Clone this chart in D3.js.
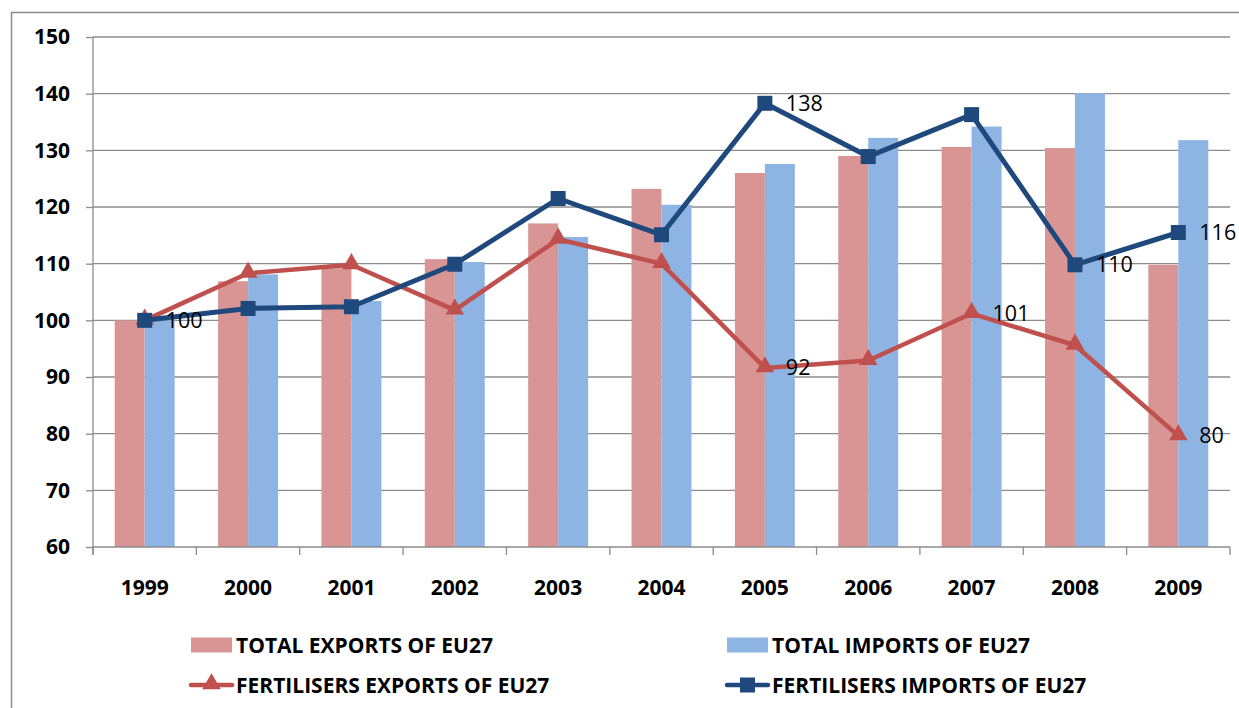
<!DOCTYPE html>
<html>
<head>
<meta charset="utf-8">
<script src="https://cdn.jsdelivr.net/npm/d3@7"></script>
<style>
  html, body { margin: 0; padding: 0; background: #fff; }
  svg { display: block; font-family: "Open Sans", "DejaVu Sans", sans-serif; }
</style>
</head>
<body>
<div id="chart"></div>
<script>
// Data (index, 1999 = 100)
const years = ['1999', '2000', '2001', '2002', '2003', '2004', '2005', '2006', '2007', '2008', '2009'];
const totalExports = [100, 106.9, 109.2, 110.8, 117.1, 123.2, 126.0, 129.0, 130.6, 130.4, 109.8];
const totalImports = [100, 108.1, 103.4, 110.3, 114.7, 120.4, 127.6, 132.2, 134.2, 140.1, 131.8];
const fertExports = [100, 108.3, 109.8, 101.8, 114.3, 110.0, 91.6, 92.9, 101.2, 95.6, 79.6];
const fertImports = [100, 102.1, 102.4, 109.9, 121.5, 115.1, 138.3, 128.9, 136.3, 109.8, 115.5];
const yTicks = [60, 70, 80, 90, 100, 110, 120, 130, 140, 150];
// Which points carry a value label
const fertExportsLabelled = [6, 8, 10];
const fertImportsLabelled = [0, 6, 9, 10];

const seriesNames = {
  totalExports: 'TOTAL EXPORTS OF EU27',
  totalImports: 'TOTAL IMPORTS OF EU27',
  fertExports: 'FERTILISERS EXPORTS OF EU27',
  fertImports: 'FERTILISERS IMPORTS OF EU27'
};

const colors = {
  totalExports: '#d99594',
  totalImports: '#8eb4e3',
  fertExports: '#c0504d',
  fertImports: '#1f497d',
  grid: '#8c8c8c'
};

const W = 1239, H = 708;
const plot = { left: 93, right: 1230, top: 37, bottom: 547 };

const svg = d3.select('#chart').append('svg')
  .attr('width', W)
  .attr('height', H);

// Outer chart border (runs off the right and bottom edges)
svg.append('rect')
  .attr('x', 11.5).attr('y', 12.5)
  .attr('width', 1250).attr('height', 720)
  .attr('fill', 'none')
  .attr('stroke', colors.grid)
  .attr('stroke-width', 1.5);

const x = d3.scaleBand()
  .domain(years)
  .range([plot.left, plot.right])
  .paddingInner(0.42)
  .paddingOuter(0.21);

const xSub = d3.scaleBand()
  .domain(['totalExports', 'totalImports'])
  .range([0, x.bandwidth()]);

const y = d3.scaleLinear()
  .domain([60, 150])
  .range([plot.bottom, plot.top]);

const cx = d => x(d) + x.bandwidth() / 2;

// Gridlines
svg.append('g')
  .selectAll('line')
  .data(yTicks.slice(1))
  .join('line')
  .attr('x1', plot.left).attr('x2', plot.right)
  .attr('y1', d => y(d)).attr('y2', d => y(d))
  .attr('stroke', colors.grid)
  .attr('stroke-width', 1.3);

// Y axis
const yAxis = svg.append('g')
  .attr('transform', `translate(${plot.left},0)`)
  .call(d3.axisLeft(y).tickValues(yTicks).tickSize(7).tickPadding(16).tickFormat(d3.format('d')));
yAxis.select('.domain').remove();
yAxis.selectAll('.tick line').attr('stroke', colors.grid).attr('stroke-width', 1.3);
yAxis.selectAll('.tick text')
  .attr('fill', '#000')
  .attr('font-size', '21px')
  .attr('font-weight', 'bold')
  .attr('font-family', '"Open Sans", sans-serif');
svg.append('line')
  .attr('x1', plot.left).attr('x2', plot.left)
  .attr('y1', plot.top).attr('y2', plot.bottom + 8)
  .attr('stroke', colors.grid)
  .attr('stroke-width', 1.3);

// Bars
const bars = svg.append('g');
['totalExports', 'totalImports'].forEach(key => {
  const values = key === 'totalExports' ? totalExports : totalImports;
  bars.append('g')
    .selectAll('rect')
    .data(years)
    .join('rect')
    .attr('x', (d, i) => x(d) + xSub(key))
    .attr('y', (d, i) => y(values[i]))
    .attr('width', xSub.bandwidth())
    .attr('height', (d, i) => y(60) - y(values[i]))
    .attr('fill', colors[key]);
});

// X axis (baseline + ticks between categories)
svg.append('line')
  .attr('x1', plot.left).attr('x2', plot.right)
  .attr('y1', plot.bottom).attr('y2', plot.bottom)
  .attr('stroke', colors.grid)
  .attr('stroke-width', 1.3);
const gap = x.step() - x.bandwidth();
const boundaries = years.map(d => x(d) - gap / 2).concat([plot.right]);
svg.append('g')
  .selectAll('line')
  .data(boundaries)
  .join('line')
  .attr('x1', d => d).attr('x2', d => d)
  .attr('y1', plot.bottom).attr('y2', plot.bottom + 8)
  .attr('stroke', colors.grid)
  .attr('stroke-width', 1.3);
svg.append('g')
  .selectAll('text')
  .data(years)
  .join('text')
  .attr('x', d => cx(d))
  .attr('y', 595)
  .attr('text-anchor', 'middle')
  .attr('font-size', '21px')
  .attr('font-weight', 'bold')
  .text(d => d);

// Lines
const triangle = d3.symbol().type(d3.symbolTriangle).size(150);
const square = d3.symbol().type(d3.symbolSquare).size(225);

function drawLine(values, color, symbolGen, labelled, width) {
  const g = svg.append('g');
  const line = d3.line()
    .x((d, i) => cx(years[i]))
    .y(d => y(d));
  g.append('path')
    .datum(values)
    .attr('d', line)
    .attr('fill', 'none')
    .attr('stroke', color)
    .attr('stroke-width', width)
    .attr('stroke-linejoin', 'round');
  g.selectAll('path.marker')
    .data(values)
    .join('path')
    .attr('class', 'marker')
    .attr('d', symbolGen)
    .attr('transform', (d, i) => `translate(${cx(years[i])},${y(d) + (symbolGen === triangle ? -1 : 0)})`)
    .attr('fill', color);
  g.selectAll('text')
    .data(labelled)
    .join('text')
    .attr('x', i => cx(years[i]) + 21)
    .attr('y', i => y(values[i]))
    .attr('dy', '0.35em')
    .attr('font-size', '21.5px')
    .attr('fill', '#000')
    .text(i => Math.round(values[i]));
}

drawLine(fertExports, colors.fertExports, triangle, fertExportsLabelled, 4.5);
drawLine(fertImports, colors.fertImports, square, fertImportsLabelled, 5);

// Legend
const legendItems = [
  { key: 'totalExports', type: 'bar', x: 191, y: 645 },
  { key: 'totalImports', type: 'bar', x: 727, y: 645 },
  { key: 'fertExports', type: 'line', x: 191, y: 685 },
  { key: 'fertImports', type: 'line', x: 727, y: 685 }
];
const legend = svg.append('g');
legendItems.forEach(item => {
  const g = legend.append('g').attr('transform', `translate(${item.x},${item.y})`);
  if (item.type === 'bar') {
    g.append('rect')
      .attr('x', 0).attr('y', -7.5)
      .attr('width', 41).attr('height', 15)
      .attr('fill', colors[item.key]);
  } else {
    g.append('line')
      .attr('x1', 0).attr('x2', 41)
      .attr('y1', 0).attr('y2', 0)
      .attr('stroke', colors[item.key])
      .attr('stroke-width', 4.5)
      .attr('stroke-linecap', 'round');
    g.append('path')
      .attr('d', item.key === 'fertExports' ? triangle() : square())
      .attr('transform', `translate(20.5,${item.key === 'fertExports' ? -1 : 0})`)
      .attr('fill', colors[item.key]);
  }
  g.append('text')
    .attr('x', 45)
    .attr('y', 0)
    .attr('dy', '0.36em')
    .attr('font-size', '21px')
    .attr('font-weight', 'bold')
    .text(seriesNames[item.key]);
});
</script>
</body>
</html>
